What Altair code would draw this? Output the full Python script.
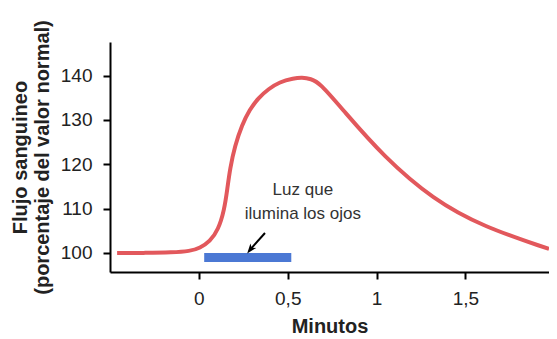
import altair as alt
import pandas as pd

# Curve: blood flow (% of normal) vs minutes
minutes = [-0.46, -0.3, -0.15, -0.05, 0.006, 0.062, 0.109, 0.143, 0.160, 0.175, 0.203, 0.243, 0.285,
           0.335, 0.392, 0.454, 0.533, 0.580, 0.63, 0.68, 0.81, 1.04, 1.32, 1.60, 1.97]
flow = [100.0, 100.0, 100.1, 100.4, 101.1, 102.6, 105.2, 109.7, 114.4, 119.0, 124.2, 128.9, 132.3,
        135.0, 137.0, 138.6, 139.4, 139.6, 139.3, 138.4, 132.3, 121.7, 112.0, 105.9, 100.9]

# Light stimulus bar
light_start = [0.03]
light_end = [0.52]
light_top = [100.0]
light_bottom = [97.97]

# Annotation
ann_x = [0.585, 0.585]
ann_y = [113.1, 107.7]
ann_text = ["Luz que", "ilumina los ojos"]

arrow_x = [0.372]
arrow_y = [104.5]
arrow_x2 = [0.29]
arrow_y2 = [100.8]

x_ticks = [0, 0.5, 1, 1.5]
y_ticks = [100, 110, 120, 130, 140]
x_domain = [-0.5, 1.97]
y_domain = [95.7, 147.6]

FONT = "Liberation Sans"

curve_df = pd.DataFrame({"m": minutes, "f": flow})
bar_df = pd.DataFrame({"x": light_start, "x2": light_end, "y": light_top, "y2": light_bottom})
ann_df = pd.DataFrame({"x": ann_x, "y": ann_y, "t": ann_text})
arrow_df = pd.DataFrame({"x": arrow_x, "y": arrow_y, "x2": arrow_x2, "y2": arrow_y2})

xscale = alt.Scale(domain=x_domain, nice=False, zero=False)
yscale = alt.Scale(domain=y_domain, nice=False, zero=False)

xaxis = alt.Axis(values=x_ticks, title="Minutos",
                 labelExpr="replace(format(datum.value, '~g'), '.', ',')",
                 grid=False, domainColor="black", domainWidth=2, tickColor="black",
                 tickWidth=2, tickSize=7, labelFontSize=19, labelColor="#222",
                 labelPadding=10, labelFont=FONT, titleFont=FONT, titleFontSize=20,
                 titleFontWeight="bold", titleColor="#222", titlePadding=8)
yaxis = alt.Axis(values=y_ticks, title=["Flujo sanguineo", "(porcentaje del valor normal)"],
                 grid=False, domainColor="black", domainWidth=2, tickColor="black",
                 tickWidth=2, tickSize=7, labelFontSize=19, labelColor="#222",
                 labelPadding=11, labelFont=FONT, titleFont=FONT, titleFontSize=20,
                 titleFontWeight="bold", titleColor="#222", titlePadding=8, titleLineHeight=22)

curve = alt.Chart(curve_df).mark_line(color="#e2585c", strokeWidth=4, interpolate="basis").encode(
    x=alt.X("m:Q", scale=xscale, axis=xaxis),
    y=alt.Y("f:Q", scale=yscale, axis=yaxis),
)

bar = alt.Chart(bar_df).mark_rect(color="#4b78d4").encode(
    x=alt.X("x:Q", scale=xscale), x2="x2:Q",
    y=alt.Y("y:Q", scale=yscale), y2="y2:Q",
)

text = alt.Chart(ann_df).mark_text(font=FONT, fontSize=17, color="#333", align="center",
                                   baseline="alphabetic").encode(
    x=alt.X("x:Q", scale=xscale), y=alt.Y("y:Q", scale=yscale), text="t:N"
)

shaft = alt.Chart(arrow_df).mark_rule(color="black", strokeWidth=2).encode(
    x=alt.X("x:Q", scale=xscale), y=alt.Y("y:Q", scale=yscale), x2="x2:Q", y2="y2:Q"
)

head = alt.Chart(arrow_df).mark_point(
    shape="M0,-1L0.7,0.9L0,0.4L-0.7,0.9Z", filled=True, color="black", opacity=1,
    size=110, angle=218
).encode(x=alt.X("x2:Q", scale=xscale), y=alt.Y("y2:Q", scale=yscale))

chart = alt.layer(curve, bar, shaft, head, text).properties(
    width=439, height=230,
    autosize=alt.AutoSizeParams(type="none"),
    padding={"left": 102, "top": 34, "right": 0, "bottom": 66},
    background="white",
).configure_view(stroke=None)

chart.save("out.html", embed_options={"renderer": "svg", "actions": False})
